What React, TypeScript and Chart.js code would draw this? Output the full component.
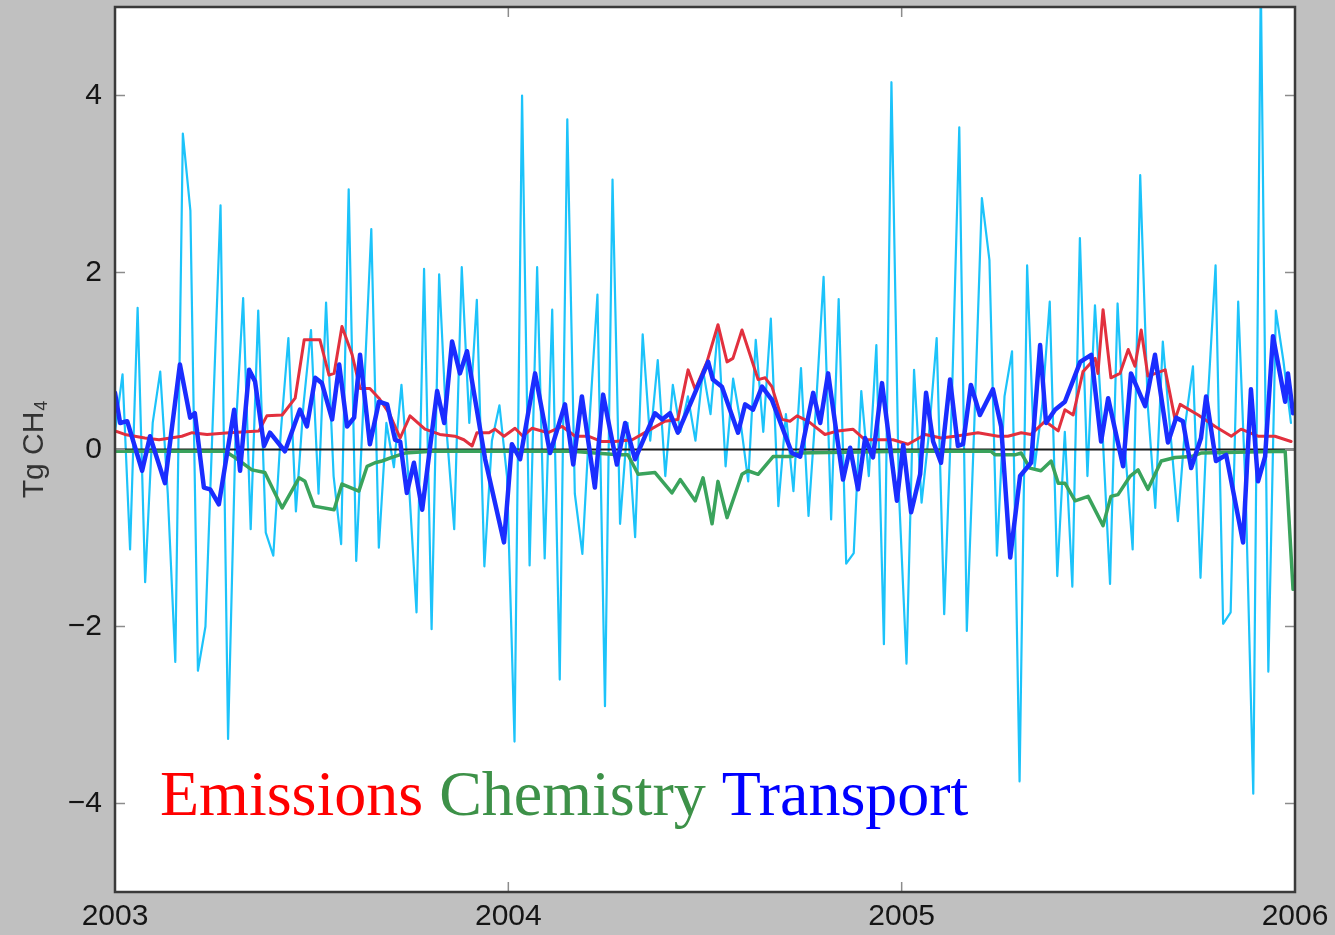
import React, { useEffect, useRef } from "react";
import { Chart, registerables } from "chart.js";

Chart.register(...registerables);

// ---- axis ticks & labels ----
const yearTicks = [2003, 2004, 2005, 2006];
const valueTicks = [-4, -2, 0, 2, 4];
const yAxisTitle = "Tg CH";
const yAxisTitleSub = "4";
const legendLabels = ["Emissions", "Chemistry", "Transport"];
const legendColors = ["#ff0000", "#3d9148", "#0000ff"];

// ---- weekly total change (light blue), one value per week starting 2003-01-01 ----
const totalWeekly = [
  0.2, 0.85, -1.13, 1.6, -1.5, 0.3, 0.88, -0.5, -2.4, 3.57,
  2.7, -2.5, -2.0, 0.4, 2.76, -3.27, 0.2, 1.71, -0.9, 1.57,
  -0.94, -1.2, 0.2, 1.26, -0.7, 0.5, 1.35, -0.5, 1.66, -0.3,
  -1.07, 2.94, -1.26, 0.6, 2.49, -1.11, 0.3, -0.2, 0.73, -0.4,
  -1.84, 2.04, -2.03, 1.98, 0.2, -0.9, 2.06, 0.3, 1.69, -1.32,
  0.1, 0.5, -0.3, -3.3, 4.0, -1.31, 2.06, -1.23, 1.58, -2.6,
  3.73, -0.5, -1.18, 0.4, 1.75, -2.9, 3.05, -0.84, 0.3, -0.99,
  1.3, 0.1, 1.01, -0.3, 0.73, 0.2, 0.6, 0.1, 0.9, 0.4,
  1.39, -0.19, 0.8, 0.3, -0.36, 1.24, 0.2, 1.48, -0.64, 0.4,
  -0.47, 0.92, -0.75, 0.5, 1.95, -0.79, 1.7, -1.29, -1.17, 0.66,
  -0.3, 1.18, -2.2, 4.15, -0.5, -2.42, 0.9, -0.6, 0.2, 1.26,
  -1.86, 0.5, 3.64, -2.05, 0.3, 2.84, 2.14, -1.2, 0.6, 1.11,
  -3.75, 2.08, -0.2, 0.5, 1.67, -1.43, 0.2, -1.55, 2.39, -0.3,
  1.63, 0.2, -1.52, 1.65, 0.0, -1.13, 3.1, 0.5, -0.66, 1.22,
  0.2, -0.81, 0.3, 0.94, -1.45, 0.6, 2.08, -1.97, -1.84, 1.67,
  -0.5, -3.89, 5.3, -2.51, 1.57, 1.0, 0.3,
];

// ---- Transport (thick blue) ----
const transportYears = [
  2003.0, 2003.013, 2003.031, 2003.069, 2003.089, 2003.127, 2003.165, 2003.191, 2003.203, 2003.226,
  2003.242, 2003.264, 2003.303, 2003.318, 2003.341, 2003.356, 2003.379, 2003.394, 2003.432, 2003.47,
  2003.488, 2003.509, 2003.526, 2003.552, 2003.57, 2003.59, 2003.608, 2003.623, 2003.648, 2003.671,
  2003.692, 2003.712, 2003.725, 2003.742, 2003.76, 2003.781, 2003.819, 2003.837, 2003.857, 2003.877,
  2003.895, 2003.941, 2003.989, 2004.009, 2004.03, 2004.068, 2004.106, 2004.144, 2004.165, 2004.187,
  2004.22, 2004.241, 2004.276, 2004.297, 2004.322, 2004.373, 2004.391, 2004.411, 2004.431, 2004.467,
  2004.508, 2004.52, 2004.543, 2004.584, 2004.602, 2004.622, 2004.645, 2004.67, 2004.721, 2004.742,
  2004.775, 2004.793, 2004.813, 2004.851, 2004.869, 2004.889, 2004.907, 2004.927, 2004.95, 2004.988,
  2005.004, 2005.024, 2005.047, 2005.062, 2005.08, 2005.1, 2005.123, 2005.143, 2005.156, 2005.176,
  2005.199, 2005.232, 2005.253, 2005.276, 2005.301, 2005.329, 2005.352, 2005.367, 2005.39, 2005.415,
  2005.454, 2005.482, 2005.507, 2005.525, 2005.563, 2005.583, 2005.619, 2005.644, 2005.677, 2005.698,
  2005.715, 2005.736, 2005.761, 2005.774, 2005.799, 2005.825, 2005.868, 2005.888, 2005.906, 2005.924,
  2005.944, 2005.975, 2005.982, 2005.995,
];
const transportValues = [
  0.64, 0.3, 0.32, -0.24, 0.15, -0.38, 0.96, 0.36, 0.41, -0.43,
  -0.45, -0.62, 0.45, -0.24, 0.9, 0.77, 0.04, 0.19, -0.02, 0.45,
  0.26, 0.81, 0.75, 0.34, 0.96, 0.26, 0.36, 1.07, 0.06, 0.54,
  0.51, 0.11, 0.09, -0.49, -0.15, -0.68, 0.66, 0.3, 1.22, 0.86,
  1.11, -0.11, -1.05, 0.06, -0.11, 0.86, -0.04, 0.51, -0.17, 0.6,
  -0.43, 0.62, -0.17, 0.3, -0.11, 0.41, 0.34, 0.41, 0.19, 0.56,
  0.99, 0.79, 0.71, 0.19, 0.51, 0.45, 0.71, 0.56, -0.04, -0.08,
  0.64, 0.3, 0.86, -0.34, 0.02, -0.45, 0.13, -0.09, 0.75, -0.58,
  0.05, -0.71, -0.28, 0.64, 0.09, -0.15, 0.79, 0.04, 0.06, 0.73,
  0.39, 0.68, 0.26, -1.22, -0.3, -0.15, 1.18, 0.3, 0.45, 0.54,
  0.99, 1.07, 0.09, 0.58, -0.19, 0.86, 0.49, 1.07, 0.08, 0.36,
  0.32, -0.21, 0.13, 0.6, -0.13, -0.06, -1.05, 0.68, -0.36, -0.08,
  1.28, 0.54, 0.86, 0.41,
];

// ---- Emissions (red) ----
const emissionsYears = [
  2003.0, 2003.025, 2003.076, 2003.112, 2003.17, 2003.196, 2003.234, 2003.29, 2003.366, 2003.386,
  2003.425, 2003.458, 2003.481, 2003.521, 2003.544, 2003.557, 2003.577, 2003.603, 2003.623, 2003.648,
  2003.671, 2003.697, 2003.725, 2003.75, 2003.788, 2003.826, 2003.864, 2003.887, 2003.908, 2003.92,
  2003.951, 2003.966, 2003.989, 2004.017, 2004.037, 2004.06, 2004.101, 2004.137, 2004.17, 2004.203,
  2004.238, 2004.271, 2004.315, 2004.355, 2004.398, 2004.431, 2004.457, 2004.475, 2004.505, 2004.533,
  2004.556, 2004.571, 2004.594, 2004.635, 2004.653, 2004.67, 2004.696, 2004.716, 2004.734, 2004.762,
  2004.805, 2004.838, 2004.876, 2004.907, 2004.94, 2004.978, 2005.016, 2005.06, 2005.1, 2005.136,
  2005.194, 2005.245, 2005.27, 2005.304, 2005.329, 2005.365, 2005.398, 2005.415, 2005.436, 2005.461,
  2005.492, 2005.499, 2005.512, 2005.532, 2005.555, 2005.576, 2005.593, 2005.609, 2005.626, 2005.67,
  2005.695, 2005.708, 2005.754, 2005.797, 2005.838, 2005.863, 2005.906, 2005.949, 2005.99,
];
const emissionsValues = [
  0.21, 0.17, 0.13, 0.11, 0.15, 0.19, 0.17, 0.19, 0.21, 0.38,
  0.39, 0.58, 1.24, 1.24, 0.84, 0.86, 1.39, 1.07, 0.69, 0.69,
  0.58, 0.41, 0.13, 0.38, 0.23, 0.17, 0.15, 0.11, 0.04, 0.19,
  0.19, 0.23, 0.15, 0.24, 0.15, 0.24, 0.19, 0.26, 0.15, 0.15,
  0.09, 0.09, 0.11, 0.21, 0.32, 0.34, 0.9, 0.68, 0.99, 1.41,
  0.99, 1.03, 1.35, 0.79, 0.81, 0.71, 0.34, 0.32, 0.38, 0.32,
  0.17, 0.21, 0.23, 0.11, 0.11, 0.11, 0.06, 0.17, 0.13, 0.15,
  0.19, 0.15, 0.15, 0.19, 0.17, 0.32, 0.21, 0.45, 0.39, 0.88,
  1.03, 0.86, 1.58, 0.81, 0.86, 1.13, 0.94, 1.35, 0.83, 0.9,
  0.34, 0.51, 0.39, 0.26, 0.15, 0.23, 0.15, 0.15, 0.09,
];

// ---- Chemistry (green) ----
const chemistryYears = [
  2003.0, 2003.28, 2003.305, 2003.348, 2003.381, 2003.425, 2003.468, 2003.483, 2003.506, 2003.557,
  2003.577, 2003.62, 2003.641, 2003.661, 2003.679, 2003.704, 2003.737, 2003.806, 2004.162, 2004.279,
  2004.304, 2004.33, 2004.373, 2004.416, 2004.437, 2004.475, 2004.495, 2004.518, 2004.533, 2004.556,
  2004.594, 2004.609, 2004.635, 2004.673, 2004.721, 2004.737, 2005.004, 2005.227, 2005.237, 2005.288,
  2005.304, 2005.326, 2005.354, 2005.38, 2005.398, 2005.415, 2005.441, 2005.474, 2005.512, 2005.532,
  2005.55, 2005.581, 2005.601, 2005.626, 2005.66, 2005.695, 2005.736, 2005.761, 2005.975, 2005.995,
];
const chemistryValues = [
  -0.02, -0.02, -0.09, -0.23, -0.26, -0.66, -0.32, -0.36, -0.64, -0.68,
  -0.39, -0.47, -0.19, -0.15, -0.13, -0.09, -0.04, -0.02, -0.02, -0.06,
  -0.06, -0.28, -0.26, -0.49, -0.34, -0.58, -0.32, -0.84, -0.36, -0.77,
  -0.28, -0.24, -0.28, -0.08, -0.08, -0.04, -0.02, -0.02, -0.06, -0.06,
  -0.04, -0.21, -0.24, -0.13, -0.38, -0.38, -0.58, -0.53, -0.86, -0.53,
  -0.51, -0.3, -0.23, -0.45, -0.13, -0.09, -0.08, -0.04, -0.02, -1.58,
];

const zeroLine = [0, 0];

const FONT_SANS = '"Liberation Sans", Arial, Helvetica, sans-serif';
const FONT_SERIF = '"Liberation Serif", "Times New Roman", serif';

const decorPlugin = {
  id: "decor",
  beforeDraw(chart: any) {
    const { ctx, chartArea: a } = chart;
    ctx.save();
    ctx.fillStyle = "#ffffff";
    ctx.fillRect(a.left, a.top, a.right - a.left, a.bottom - a.top);
    ctx.restore();
  },
  afterDraw(chart: any) {
    const { ctx, chartArea: a, scales } = chart;
    ctx.save();
    // inward tick marks
    ctx.strokeStyle = "#8c8c8c";
    ctx.lineWidth = 1.5;
    const seg = (x1: number, y1: number, x2: number, y2: number) => {
      ctx.beginPath();
      ctx.moveTo(x1, y1);
      ctx.lineTo(x2, y2);
      ctx.stroke();
    };
    valueTicks.forEach((v) => {
      const y = scales.y.getPixelForValue(v);
      seg(a.left, y, a.left + 10, y);
      seg(a.right - 10, y, a.right, y);
    });
    yearTicks.forEach((v) => {
      const x = scales.x.getPixelForValue(v);
      seg(x, a.top, x, a.top + 10);
      seg(x, a.bottom - 10, x, a.bottom);
    });
    // frame
    ctx.strokeStyle = "#3a3a3a";
    ctx.lineWidth = 2.5;
    ctx.strokeRect(a.left, a.top, a.right - a.left, a.bottom - a.top);

    // y axis title, rotated, with subscript
    const cy = (a.top + a.bottom) / 2;
    ctx.translate(0, cy);
    ctx.rotate(-Math.PI / 2);
    ctx.fillStyle = "#333333";
    ctx.textBaseline = "alphabetic";
    ctx.textAlign = "left";
    const mainFont = `30px ${FONT_SANS}`;
    const subFont = `18px ${FONT_SANS}`;
    ctx.font = mainFont;
    const w1 = ctx.measureText(yAxisTitle).width;
    ctx.font = subFont;
    const w2 = ctx.measureText(yAxisTitleSub).width;
    const start = -(w1 + w2 + 1) / 2;
    ctx.font = mainFont;
    ctx.fillText(yAxisTitle, start, 43);
    ctx.font = subFont;
    ctx.fillText(yAxisTitleSub, start + w1 + 1, 47);
    ctx.setTransform(1, 0, 0, 1, 0, 0);

    // coloured legend words
    ctx.font = `64px ${FONT_SERIF}`;
    ctx.textBaseline = "alphabetic";
    ctx.textAlign = "left";
    let x = a.left + 45;
    const y = a.bottom - 77;
    legendLabels.forEach((t, i) => {
      ctx.fillStyle = legendColors[i];
      ctx.fillText(t, x, y);
      x += ctx.measureText(t + " ").width;
    });
    ctx.restore();
  },
};

export default function App() {
  const canvasRef = useRef<HTMLCanvasElement | null>(null);

  useEffect(() => {
    if (!canvasRef.current) return;
    const totalPoints = totalWeekly.map((v, i) => ({ x: 2003 + (i * 7) / 365.25, y: v }));
    const pair = (xs: number[], ys: number[]) => xs.map((x, i) => ({ x, y: ys[i] }));

    const chart = new Chart(canvasRef.current, {
      type: "line",
      data: {
        datasets: [
          {
            label: "Transport",
            data: pair(transportYears, transportValues),
            borderColor: "#1a2dff",
            borderWidth: 4.5,
            order: 0,
          },
          {
            label: "Emissions",
            data: pair(emissionsYears, emissionsValues),
            borderColor: "#e2303e",
            borderWidth: 3,
            order: 1,
          },
          {
            label: "Chemistry",
            data: pair(chemistryYears, chemistryValues),
            borderColor: "#3aa35c",
            borderWidth: 3.5,
            order: 2,
          },
          {
            label: "zero",
            data: pair([yearTicks[0], yearTicks[yearTicks.length - 1]], zeroLine),
            borderColor: "#1a1a1a",
            borderWidth: 2,
            order: 3,
          },
          {
            label: "Total",
            data: totalPoints,
            borderColor: "#1cc3fa",
            borderWidth: 2.2,
            order: 4,
          },
        ] as any,
      },
      options: {
        responsive: false,
        animation: false,
        devicePixelRatio: 1,
        parsing: false as any,
        elements: {
          point: { radius: 0, hoverRadius: 0 },
          line: { tension: 0, fill: false, borderJoinStyle: "round", borderCapStyle: "round" },
        },
        layout: { padding: { top: 7, right: 40, left: 0, bottom: 0 } },
        plugins: {
          legend: { display: false },
          tooltip: { enabled: false },
          title: { display: false },
        },
        scales: {
          x: {
            type: "linear",
            min: 2003,
            max: 2006,
            afterBuildTicks: (s: any) => {
              s.ticks = yearTicks.map((v) => ({ value: v }));
            },
            afterFit: (s: any) => {
              s.height = 43;
              s.paddingLeft = 0;
              s.paddingRight = 0;
            },
            grid: { display: false, drawTicks: false },
            border: { display: false },
            ticks: {
              padding: 7,
              color: "#151515",
              font: { family: FONT_SANS, size: 30 },
              maxRotation: 0,
              autoSkip: false,
              callback: (v: any) => String(v),
            },
          },
          y: {
            type: "linear",
            min: -5,
            max: 5,
            afterBuildTicks: (s: any) => {
              s.ticks = valueTicks.map((v) => ({ value: v }));
            },
            afterFit: (s: any) => {
              s.width = 115;
              s.paddingTop = 0;
              s.paddingBottom = 0;
            },
            grid: { display: false, drawTicks: false },
            border: { display: false },
            ticks: {
              padding: 13,
              color: "#151515",
              font: { family: FONT_SANS, size: 30 },
              callback: (v: any) => (v < 0 ? "\u2212" + Math.abs(v) : String(v)),
            },
          },
        },
      } as any,
      plugins: [decorPlugin],
    });
    return () => chart.destroy();
  }, []);

  return (
    <div
      style={{
        position: "fixed",
        left: 0,
        top: 0,
        width: 1335,
        height: 935,
        background: "#c0c0c0",
      }}
    >
      <canvas ref={canvasRef} width={1335} height={935} style={{ display: "block" }} />
    </div>
  );
}
